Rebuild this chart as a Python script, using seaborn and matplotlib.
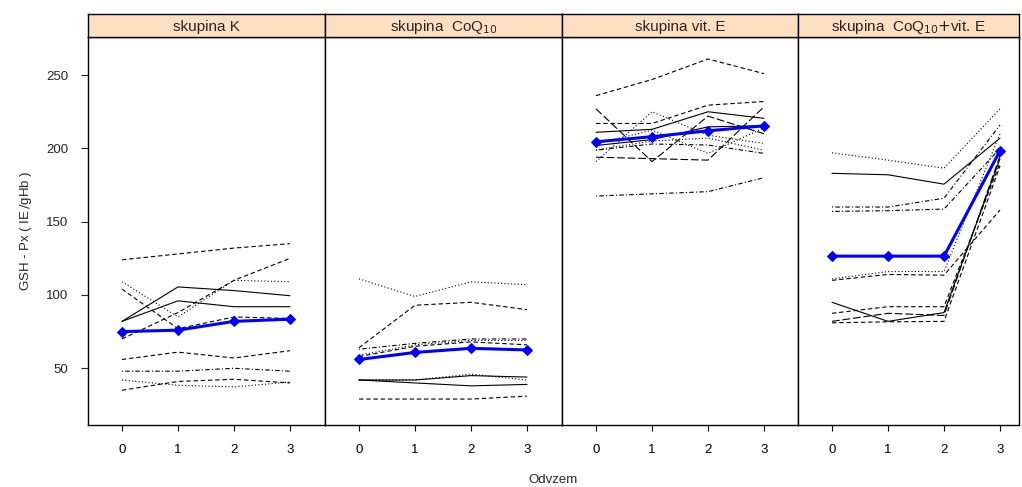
import numpy as np
import pandas as pd
import matplotlib
matplotlib.use("Agg")
import matplotlib.pyplot as plt
import seaborn as sns

sns.set_style("white")
plt.rcParams["font.family"] = ["Liberation Sans", "DejaVu Sans"]

odvzem = [0, 1, 2, 3]
groups = ["skupina K", "skupina  CoQ$_{10}$", "skupina vit. E",
          "skupina  CoQ$_{10}$$+$vit. E"]
y_ticks = [50, 100, 150, 200, 250]

k_values = [[124, 128, 132, 135], [70, 88, 110, 125], [109, 85, 110, 109],
            [104, 77, 85, 84], [82, 105.5, 103, 99.5], [82, 96, 92, 92],
            [56, 61, 57, 62], [48, 48, 50, 48], [42, 38.4, 37.3, 40.6],
            [35, 41, 42.5, 40]]
k_styles = ["dashed", "dashed", "dotted", "dashed", "solid", "solid",
            "dashed", "dotdash", "dotted", "dashed"]
k_mean = [75, 76, 82, 83.5]

coq_values = [[111, 99, 109, 107], [64, 93, 95, 90], [63, 67, 70, 70],
              [59, 66, 69, 69], [58, 65, 68, 66], [42, 42, 45, 44],
              [42, 40, 38, 39], [42, 42, 46, 42], [29, 29, 29, 31]]
coq_styles = ["dotted", "dashed", "dotdash", "dotted", "dashed", "solid",
              "solid", "dotted", "dashed"]
coq_mean = [56, 60.8, 63.6, 62.5]

vite_values = [[236, 247, 261, 251], [167.5, 169, 170.5, 180],
               [227, 191, 222, 210], [217, 217, 229.5, 232],
               [211, 213, 225, 220.5], [202, 206, 214.7, 215.5],
               [191, 225, 209, 203.4], [199, 205, 207, 198.8],
               [194, 193, 192, 228.4], [198.8, 203, 202.3, 196.6],
               [203, 212.5, 196.6, 214]]
vite_styles = ["dashed", "dotdash", "longdash", "dashed", "solid", "solid",
               "dotted", "dotted", "longdash", "dotdash", "dotted"]
vite_mean = [204.5, 208, 212, 215.4]

comb_values = [[197, 192, 186.5, 227], [183, 182, 175.6, 207],
               [160, 160, 166, 216], [157, 157.5, 158.6, 200],
               [110, 114, 113.5, 158], [111, 116, 116, 210],
               [95, 82, 88, 193], [87.5, 92, 92, 190],
               [82, 87.5, 86, 195], [81, 81.7, 82, 188]]
comb_styles = ["dotted", "solid", "dotdash", "dotdash", "dashed", "dotted",
               "solid", "dashed", "longdash", "dashed"]
comb_mean = [126.5, 126.5, 126.5, 198.4]

dash_map = {"solid": "-", "dashed": (0, (4, 2.5)), "dotted": (0, (1, 2)),
            "dotdash": (0, (1, 2, 4, 2)), "longdash": (0, (7, 2.5))}

panels = [(k_values, k_styles, k_mean), (coq_values, coq_styles, coq_mean),
          (vite_values, vite_styles, vite_mean), (comb_values, comb_styles, comb_mean)]

W, H = 1022, 487
fig = plt.figure(figsize=(W / 100, H / 100), dpi=100)

edges = [88, 325, 562, 798, 1019]
plot_top, plot_bot, strip_top = 37, 425, 14
tick_px = 56.0
x0_off = 34.0

for i, (vals, styles, mean) in enumerate(panels):
    lpx, rpx = edges[i], edges[i + 1]
    ax = fig.add_axes([lpx / W, 1 - plot_bot / H, (rpx - lpx) / W, (plot_bot - plot_top) / H])
    for row, st in zip(vals, styles):
        sns.lineplot(x=odvzem, y=row, ax=ax, color="black", lw=0.8,
                     linestyle=dash_map[st])
    sns.lineplot(x=odvzem, y=mean, ax=ax, color="#0000FF", lw=2.2,
                 marker="D", markersize=5.5, markeredgecolor="#0000FF")
    xmin = -x0_off / tick_px
    xmax = xmin + (rpx - lpx) / tick_px
    ax.set_xlim(xmin, xmax)
    ax.set_ylim(11.3, 276)
    ax.set_xticks(odvzem)
    ax.set_xticklabels([str(v) for v in odvzem])
    ax.tick_params(axis="x", direction="out", length=4, width=0.8, pad=10,
                   labelsize=9.5, bottom=True, colors="black")
    if i == 0:
        ax.set_yticks(y_ticks)
        ax.set_yticklabels([str(v) for v in y_ticks])
        ax.tick_params(axis="y", direction="out", length=5, width=0.8, pad=9,
                       labelsize=9.5, left=True)
        ax.set_ylabel("GSH - Px ( IE$\\//$gHb )", fontsize=9.5, labelpad=9)
    else:
        ax.set_yticks([])
    ax.set_xlabel("")
    for s in ax.spines.values():
        s.set_color("black")
        s.set_linewidth(1.0)
        s.set_visible(True)
    # strip header
    sax = fig.add_axes([lpx / W, 1 - plot_top / H, (rpx - lpx) / W, (plot_top - strip_top) / H])
    sax.set_facecolor("#FFDFC2")
    sax.set_xticks([])
    sax.set_yticks([])
    for s in sax.spines.values():
        s.set_color("black")
        s.set_linewidth(1.0)
        s.set_visible(True)
    sax.text(0.5, 0.45, groups[i], ha="center", va="center", fontsize=11,
             transform=sax.transAxes)

fig.text(553 / W, 1 - 480 / H, "Odvzem", ha="center", va="center", fontsize=9.5)

fig.savefig("out.png", dpi=100)
